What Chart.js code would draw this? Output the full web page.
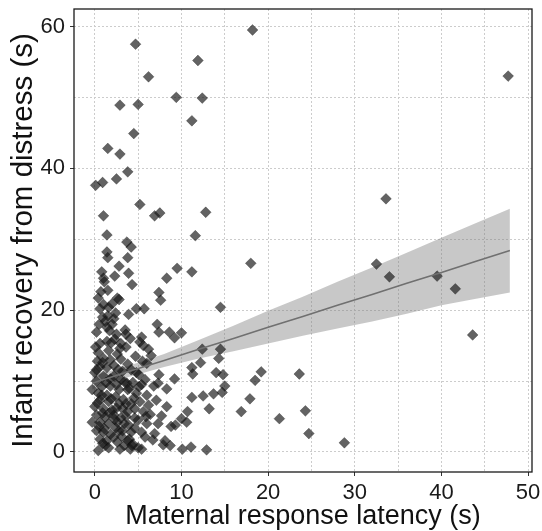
<!DOCTYPE html>
<html><head><meta charset="utf-8">
<script src="https://cdn.jsdelivr.net/npm/chart.js@4.4.1/dist/chart.umd.min.js"></script>
<style>html,body{margin:0;padding:0;background:#fff;}canvas{display:block;}</style>
</head><body>
<canvas id="c" width="542" height="531"></canvas>
<script>
const latency = [18.2,4.7,11.9,6.2,47.7,2.9,5.0,9.4,12.4,11.2,
4.5,1.5,2.9,3.8,2.5,0.1,0.9,5.2,33.6,1.0,
6.9,7.5,12.8,1.4,11.6,3.7,4.2,1.4,1.5,3.8,
18.0,32.5,2.8,9.5,11.2,0.8,2.3,3.9,34.0,39.5,
8.3,1.0,1.1,4.3,41.6,1.5,0.7,7.4,7.6,0.4,
2.6,2.8,14.5,4.8,5.7,1.0,1.6,2.0,43.6,3.9,
0.9,1.5,2.2,1.2,2.0,7.2,7.4,8.6,10.0,9.2,
0.2,1.7,2.5,3.5,3.6,4.1,5.4,5.2,5.6,6.2,
6.5,0.6,1.4,2.3,3.0,3.6,0.4,1.6,2.6,1.0,
3.0,12.4,14.5,14.3,0.6,1.4,2.2,3.8,6.0,4.2,
3.2,0.0,1.0,2.2,3.0,4.8,5.1,5.8,7.4,7.3,
9.2,11.2,12.2,11.3,14.0,14.8,19.2,23.6,18.5,0.2,
0.8,1.8,2.8,3.7,3.8,5.4,5.1,8.3,15.0,14.7,
13.7,12.5,11.2,17.9,-0.3,0.4,1.4,2.4,4.8,6.0,
0.6,1.6,2.8,3.6,4.2,5.2,7.1,0.0,1.0,2.0,
3.2,4.6,6.2,8.3,13.2,16.9,24.3,0.2,1.2,2.2,
3.8,5.6,6.4,10.7,10.0,10.6,21.3,-0.3,0.6,1.6,
2.6,3.4,5.0,6.0,7.3,9.3,8.8,0.2,1.0,1.8,
2.8,4.2,5.4,24.7,0.6,1.4,2.2,3.8,4.0,5.8,
6.7,4.4,5.0,5.4,3.4,7.9,8.7,28.8,0.4,2.9,
10.1,11.1,12.9,0.3,1.8,2.5,0.9,2.4,3.1,4.6,
1.2,4.1,3.6,0.3,0.8,1.3,1.9,2.5,3.3,4.0,
4.5,0.5,1.1,1.7,2.3,3.0,3.9,4.6,0.9,1.6,
2.6,3.2,4.3,0.2,0.9,1.8,2.7,3.4,4.4,0.5,
1.4,2.4,0.6,1.9,0.1,2.9,4.7,5.5,6.8,5.9,
6.9,7.7,8.1];
const recovery = [59.5,57.5,55.2,52.9,53.0,48.9,49.0,50.0,49.9,46.7,
44.9,42.8,42.0,39.5,38.5,37.6,38.0,34.9,35.7,33.3,
33.3,33.7,33.8,30.6,30.5,29.6,28.9,28.2,27.4,27.4,
26.6,26.5,26.2,25.9,25.4,25.4,24.8,25.2,24.7,24.8,
24.5,24.5,24.0,23.6,23.0,22.8,22.6,22.5,21.4,21.7,
21.7,21.5,20.4,20.2,20.2,20.8,20.4,20.9,16.5,19.4,
19.0,19.2,18.8,18.4,18.0,18.0,16.9,16.9,16.8,16.1,
16.9,17.1,16.6,17.2,16.6,16.0,16.2,15.5,15.0,14.5,
13.6,15.3,15.6,15.9,15.3,14.8,14.0,14.3,13.8,13.2,
13.1,14.5,14.5,13.2,12.0,11.9,12.2,12.4,12.5,11.6,
11.4,11.2,10.7,10.7,10.2,11.2,10.9,10.2,10.9,9.7,
10.3,11.9,12.6,11.0,11.2,10.9,11.3,11.0,10.1,10.0,
9.2,9.3,8.8,9.7,8.8,9.5,9.2,8.9,9.3,8.4,
8.2,7.9,7.7,7.5,8.8,8.3,8.0,7.8,8.3,8.0,
7.3,7.1,6.8,6.8,6.8,7.1,7.3,6.4,6.1,5.9,
6.1,6.1,6.6,6.4,6.1,5.7,5.8,5.2,4.9,5.2,
5.7,5.7,5.3,5.7,4.7,4.2,4.7,4.2,4.2,4.0,
4.2,4.0,4.5,4.0,4.0,3.8,3.6,3.0,2.8,2.5,
3.0,2.8,2.8,2.6,1.8,1.6,2.1,1.6,1.8,2.1,
1.7,1.1,0.6,0.4,0.9,1.0,0.9,1.3,0.2,0.4,
0.4,0.7,0.3,12.8,10.3,9.5,5.5,3.4,2.2,3.4,
0.9,0.4,5.0,6.9,8.0,9.8,7.5,6.2,7.4,9.0,
7.6,3.6,3.3,5.5,4.6,4.8,3.8,4.8,1.2,0.6,
1.4,3.0,0.9,11.6,12.6,13.0,11.6,9.9,9.8,18.0,
17.6,19.6,20.2,15.4,14.8,14.6,13.5,12.8,9.3,5.0,
2.6,5.1,1.6];

const fitX    = [-0.3, 4, 8, 12, 16, 20, 24, 28, 32, 36, 40, 44, 47.9];
const fitY    = [9.7, 11.4, 12.9, 14.5, 16.0, 17.6, 19.1, 20.7, 22.2, 23.8, 25.3, 26.9, 28.4];
const ciUpper = [10.7, 12.2, 13.8, 15.8, 17.8, 19.9, 21.9, 24.0, 26.0, 28.1, 30.2, 32.3, 34.3];
const ciLower = [8.8, 10.6, 12.0, 13.2, 14.2, 15.3, 16.4, 17.4, 18.4, 19.5, 20.7, 21.6, 22.5];

const xMajorTicks = [0, 10, 20, 30, 40, 50];
const xMinorGrid  = [5, 15, 25, 35, 45];
const yMajorTicks = [0, 20, 40, 60];
const yMinorGrid  = [10, 30, 50];
const xTitle = 'Maternal response latency (s)';
const yTitle = 'Infant recovery from distress (s)';

const FONT = "'Liberation Sans', Arial, sans-serif";
const pts = (xs, ys) => xs.map((x, i) => ({x: x, y: ys[i]}));

const framePlugin = {
  id: 'frame',
  afterDraw(chart) {
    const a = chart.chartArea, ctx = chart.ctx;
    ctx.save();
    ctx.strokeStyle = '#1a1a1a';
    ctx.lineWidth = 1.3;
    ctx.strokeRect(a.left, a.top, a.right - a.left, a.bottom - a.top);
    ctx.restore();
  }
};

function gridSetup(major, minor) {
  return s => { s.ticks = major.concat(minor).sort((a, b) => a - b).map(v => ({value: v})); };
}

new Chart(document.getElementById('c'), {
  type: 'scatter',
  data: {
    datasets: [
      { type: 'line', data: pts(fitX, ciUpper), fill: '+1', backgroundColor: 'rgba(125,125,125,0.42)',
        borderColor: 'rgba(0,0,0,0)', borderWidth: 0, pointRadius: 0, order: 3 },
      { type: 'line', data: pts(fitX, ciLower), fill: false,
        borderColor: 'rgba(0,0,0,0)', borderWidth: 0, pointRadius: 0, order: 3 },
      { type: 'scatter', data: pts(latency, recovery), pointStyle: 'rectRot', pointRadius: 5.4,
        backgroundColor: 'rgba(25,25,25,0.68)', borderColor: 'rgba(0,0,0,0.45)', borderWidth: 0.6, order: 2 },
      { type: 'line', data: pts(fitX, fitY), fill: false, borderColor: '#707070', borderWidth: 1.6,
        pointRadius: 0, order: 1 }
    ]
  },
  options: {
    responsive: false,
    animation: false,
    devicePixelRatio: 1,
    layout: { padding: { top: 9, right: 10, left: 0, bottom: 0 } },
    plugins: { legend: { display: false }, tooltip: { enabled: false } },
    scales: {
      x: {
        type: 'linear', min: -2.4, max: 50.45,
        afterBuildTicks: gridSetup(xMajorTicks, xMinorGrid),
        afterFit: s => { s.height = 59; s.paddingLeft = 0; s.paddingRight = 0; },
        ticks: { autoSkip: false, maxRotation: 0, padding: 4, color: '#1a1a1a',
          font: { family: FONT, size: 22 },
          callback: v => xMajorTicks.includes(v) ? String(v) : '' },
        grid: { color: '#cccccc', lineWidth: 1, tickLength: 4,
          tickColor: c => (c.tick && xMajorTicks.includes(c.tick.value)) ? '#333' : 'rgba(0,0,0,0)' },
        border: { display: false, dash: [2, 2] },
        title: { display: true, text: xTitle, color: '#111', font: { family: FONT, size: 27, lineHeight: 1.08 },
          padding: { top: 0, bottom: 0 } }
      },
      y: {
        type: 'linear', min: -2.82, max: 62.46,
        afterBuildTicks: gridSetup(yMajorTicks, yMinorGrid),
        afterFit: s => { s.width = 74; s.paddingTop = 0; s.paddingBottom = 0; },
        ticks: { autoSkip: false, padding: 5, color: '#1a1a1a',
          font: { family: FONT, size: 22 },
          callback: v => yMajorTicks.includes(v) ? String(v) : '' },
        grid: { color: '#cccccc', lineWidth: 1, tickLength: 4,
          tickColor: c => (c.tick && yMajorTicks.includes(c.tick.value)) ? '#333' : 'rgba(0,0,0,0)' },
        border: { display: false, dash: [2, 2] },
        title: { display: true, text: yTitle, color: '#111', font: { family: FONT, size: 29.5 },
          padding: { top: 6, bottom: 0 } }
      }
    }
  },
  plugins: [framePlugin]
});
</script>
</body></html>
